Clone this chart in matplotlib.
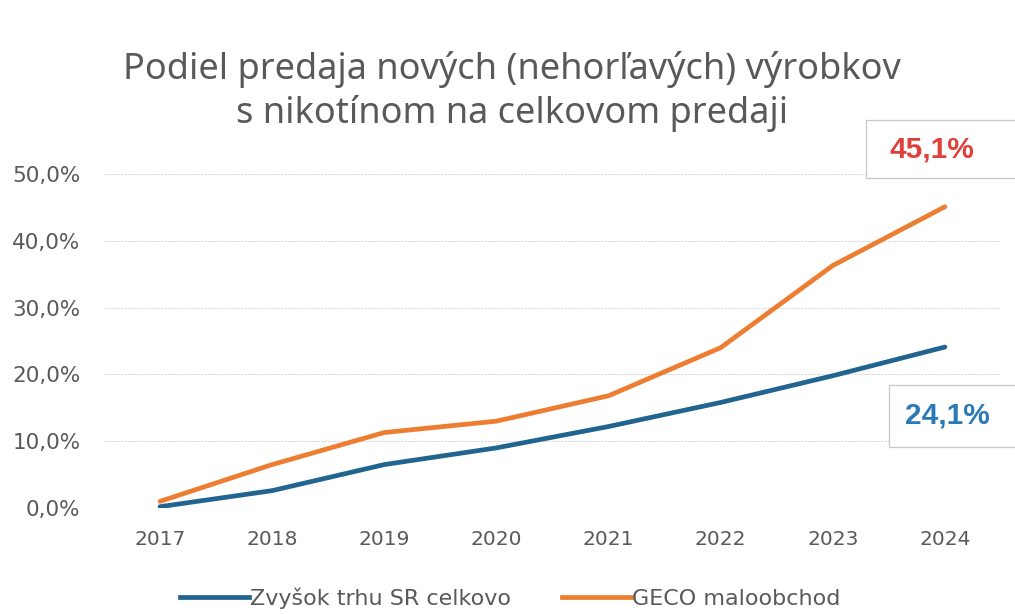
import matplotlib
matplotlib.use("Agg")
import matplotlib.pyplot as plt
from matplotlib.lines import Line2D
from matplotlib.patches import Rectangle

years = ["2017", "2018", "2019", "2020", "2021", "2022", "2023", "2024"]
zvysok = [0.2, 2.6, 6.5, 9.0, 12.2, 15.8, 19.8, 24.1]
geco = [1.0, 6.5, 11.3, 13.0, 16.8, 24.0, 36.3, 45.1]
series_names = ["Zvyšok trhu SR celkovo", "GECO maloobchod"]
yticks = [0, 10, 20, 30, 40, 50]
title = "Podiel predaja nových (nehorľavých) výrobkov\ns nikotínom na celkovom predaji"

FONT = "Noto Sans"
TFONT = "DejaVu Sans"
GRAY = "#595959"
BLUE = "#21648F"
ORANGE = "#ED7D31"

fig = plt.figure(figsize=(10.15, 6.14), dpi=100)
W, H = 1015, 614
ax = fig.add_axes([104 / W, 1 - 508 / H, (1001 - 104) / W, (508 - 174) / H])

x = list(range(len(years)))
ax.plot(x, zvysok, color=BLUE, lw=3.4, solid_capstyle="round", zorder=3)
ax.plot(x, geco, color=ORANGE, lw=3.4, solid_capstyle="round", zorder=3)

ax.set_xlim(-0.5, len(years) - 0.5)
ax.set_ylim(0, 50)
ax.set_yticks(yticks)
ax.set_yticklabels([f"{v:.1f}".replace(".", ",") + "%" for v in yticks],
                   fontsize=15.5, color=GRAY, family=TFONT)
ax.set_xticks(x)
ax.set_xticklabels(years, fontsize=14.5, color=GRAY, family=TFONT)
ax.tick_params(axis="x", length=0, pad=16)
ax.tick_params(axis="y", length=0, pad=17)
for s in ax.spines.values():
    s.set_visible(False)
ax.grid(axis="y", color="#d9d9d9", lw=0.8, linestyle=(0, (2, 1)))
ax.set_axisbelow(True)

fig.text(512 / W, 1 - 91 / H, title, ha="center", va="center", fontsize=26,
         color=GRAY, family=FONT, linespacing=1.25)

# value callouts (boxes in figure pixels)
def callout(x0, y0, x1, y1, cx, txt, color):
    fig.patches.append(Rectangle((x0 / W, 1 - y1 / H), (x1 - x0) / W, (y1 - y0) / H,
                                 transform=fig.transFigure, fc="white", ec="#c8c8c8",
                                 lw=0.9, zorder=5))
    fig.text(cx / W, 1 - (y0 + y1) / 2 / H, txt, ha="center",
             va="center", fontsize=21.5, fontweight="bold", color=color,
             family="Liberation Sans", zorder=6)

callout(866, 120, 1025, 178, 932, f"{geco[-1]:.1f}".replace(".", ",") + "%", "#E0403A")
callout(889, 385, 1025, 447, 947, f"{zvysok[-1]:.1f}".replace(".", ",") + "%", "#2A7AB8")

handles = [Line2D([], [], color=BLUE, lw=3.4), Line2D([], [], color=ORANGE, lw=3.4)]
fig.legend(handles, series_names, loc="center", bbox_to_anchor=(510 / W, 1 - 598 / H),
           ncol=2, frameon=False, handlelength=3.1, handletextpad=0.05,
           columnspacing=2.3, prop={"family": TFONT, "size": 16}, labelcolor=GRAY)

fig.savefig("out.png", dpi=100)
